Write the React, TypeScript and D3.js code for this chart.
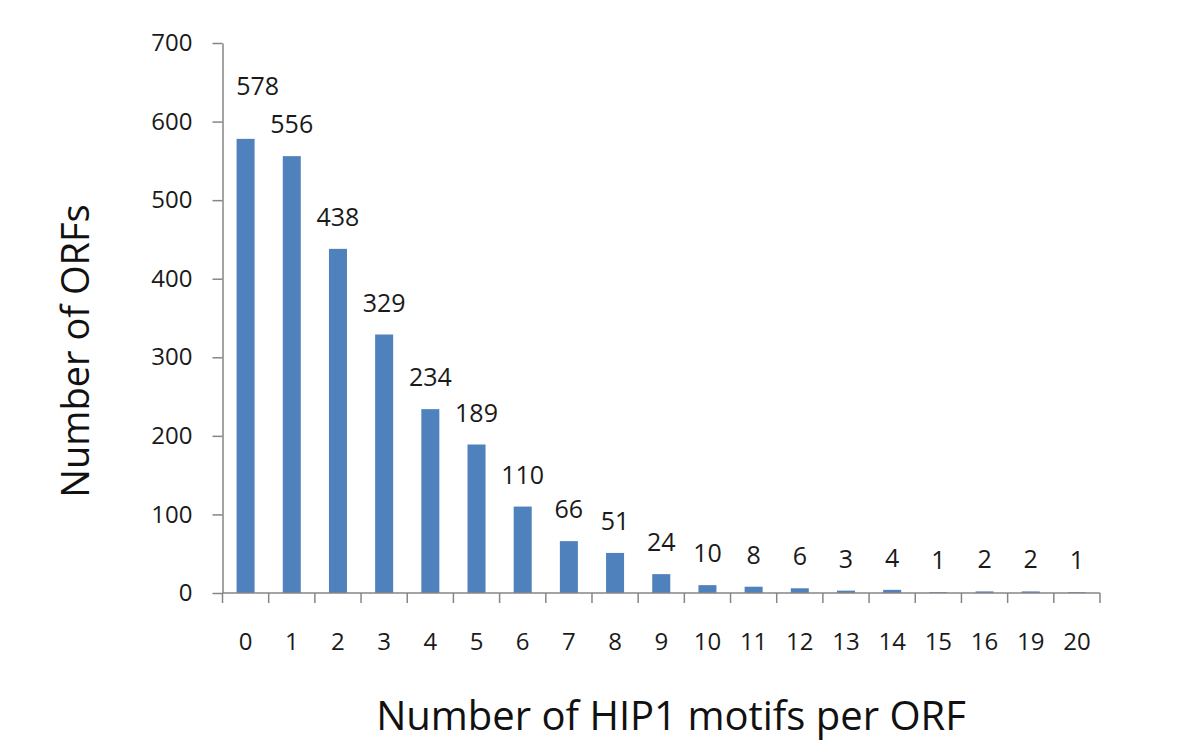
import React, { useEffect, useRef } from 'react';
import * as d3 from 'd3';

// Motif counts per ORF (x categories) and number of ORFs (bar values)
const categories: string[] = ['0', '1', '2', '3', '4', '5', '6', '7', '8', '9', '10', '11', '12', '13', '14', '15', '16', '19', '20'];
const orfCounts: number[] = [578, 556, 438, 329, 234, 189, 110, 66, 51, 24, 10, 8, 6, 3, 4, 1, 2, 2, 1];
const yTicks: number[] = [0, 100, 200, 300, 400, 500, 600, 700];

const xAxisTitle = 'Number of HIP1 motifs per ORF';
const yAxisTitle = 'Number of ORFs';

const FONT = '"Open Sans", "Noto Sans", Arial, sans-serif';

export default function App() {
    const ref = useRef<SVGSVGElement>(null);

    useEffect(() => {
        if (!ref.current) return;
        const svg = d3.select(ref.current);
        svg.selectAll('*').remove();

        const width = 1200;
        const height = 755;
        const left = 222.5;
        const right = 1100;
        const top = 43;
        const bottom = 593;
        const axisColor = '#868686';

        const x = d3
            .scaleBand<string>()
            .domain(categories)
            .range([left, right])
            .paddingInner(0.61)
            .paddingOuter(0.305);
        const y = d3.scaleLinear().domain([0, 700]).range([bottom, top]);

        svg.attr('width', width).attr('height', height).attr('viewBox', `0 0 ${width} ${height}`);
        svg.append('rect').attr('width', width).attr('height', height).attr('fill', 'white');

        // bars
        svg.append('g')
            .attr('fill', '#4F81BD')
            .selectAll('rect')
            .data(orfCounts)
            .join('rect')
            .attr('x', (_, i) => x(categories[i])!)
            .attr('y', (d) => y(d))
            .attr('width', x.bandwidth())
            .attr('height', (d) => y(0) - y(d));

        // y axis
        svg.append('g')
            .attr('transform', `translate(${left},0)`)
            .call(d3.axisLeft(y).tickValues(yTicks).tickSize(10).tickSizeOuter(0).tickPadding(20))
            .call((g) => g.selectAll('line, path').attr('stroke', axisColor).attr('stroke-width', 1.5))
            .call((g) =>
                g.selectAll('text').attr('fill', '#1a1a1a').attr('font-size', 24).attr('font-family', FONT)
            );

        // x axis: labels from band scale, ticks at category boundaries
        svg.append('g')
            .attr('transform', `translate(0,${bottom})`)
            .call(d3.axisBottom(x).tickSize(0).tickPadding(40))
            .call((g) => g.select('.domain').remove())
            .call((g) =>
                g.selectAll('text').attr('fill', '#1a1a1a').attr('font-size', 24).attr('font-family', FONT)
            );

        svg.append('line')
            .attr('x1', left)
            .attr('x2', right)
            .attr('y1', bottom)
            .attr('y2', bottom)
            .attr('stroke', axisColor)
            .attr('stroke-width', 1.5);

        const step = x.step();
        svg.append('g')
            .selectAll('line')
            .data(d3.range(categories.length + 1))
            .join('line')
            .attr('x1', (i) => left + i * step)
            .attr('x2', (i) => left + i * step)
            .attr('y1', bottom)
            .attr('y2', bottom + 10)
            .attr('stroke', axisColor)
            .attr('stroke-width', 1.5);

        // data labels above bars (first one nudged up/right like the original)
        svg.append('g')
            .attr('font-family', FONT)
            .attr('font-size', 25)
            .attr('fill', '#1a1a1a')
            .attr('text-anchor', 'middle')
            .selectAll('text')
            .data(orfCounts)
            .join('text')
            .attr('x', (_, i) => x(categories[i])! + x.bandwidth() / 2 + (i === 0 ? 12 : 0))
            .attr('y', (d, i) => y(d) - 23 - (i === 0 ? 21 : 0))
            .text((d) => d);

        // axis titles
        svg.append('text')
            .attr('x', 671)
            .attr('y', 730)
            .attr('text-anchor', 'middle')
            .attr('font-family', FONT)
            .attr('font-size', 40)
            .attr('fill', '#111')
            .text(xAxisTitle);

        svg.append('text')
            .attr('transform', `translate(89,351) rotate(-90)`)
            .attr('text-anchor', 'middle')
            .attr('font-family', FONT)
            .attr('font-size', 38)
            .attr('fill', '#111')
            .text(yAxisTitle);
    }, []);

    return (
        <div style={{ position: 'fixed', left: 0, top: 0, width: 1200, height: 755, background: 'white' }}>
            <svg ref={ref} style={{ display: 'block' }} />
        </div>
    );
}
